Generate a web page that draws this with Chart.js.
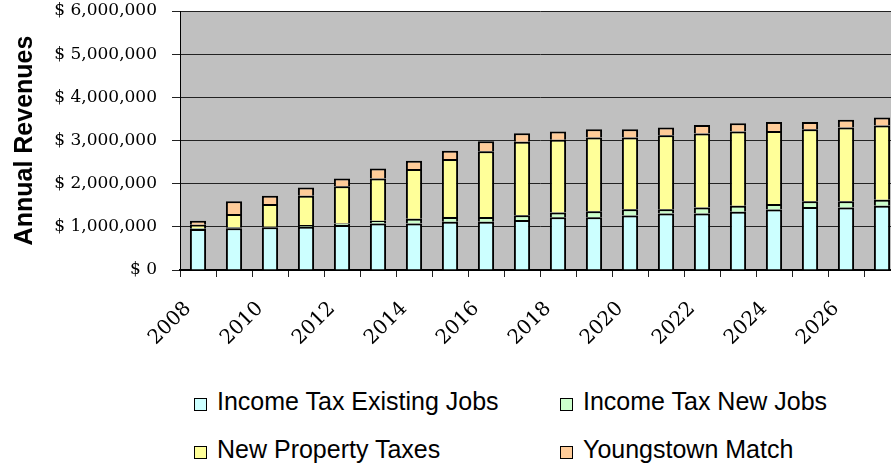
<!DOCTYPE html>
<html>
<head>
<meta charset="utf-8">
<script src="https://cdn.jsdelivr.net/npm/chart.js@4.4.1/dist/chart.umd.min.js"></script>
<style>
  html, body { margin: 0; padding: 0; background: #fff; overflow: hidden; }
  #wrap { position: absolute; left: 0; top: 0; width: 900px; height: 360px; }
  .lg-box { position: absolute; width: 13px; height: 13px; border: 1px solid #000; box-sizing: border-box; }
  .lg-text { position: absolute; font-family: "Liberation Sans", Arial, sans-serif; font-size: 25px; line-height: 25px; color: #000; white-space: nowrap; }
</style>
</head>
<body>
<div id="wrap"><canvas id="myCanvas" width="900" height="360"></canvas></div>
<div id="legend"></div>
<script>
// years on the category axis
var years = ['2008','2009','2010','2011','2012','2013','2014','2015','2016','2017',
             '2018','2019','2020','2021','2022','2023','2024','2025','2026','2027'];

// annual revenues in dollars
var income_existing = [950000, 970000, 990000, 1000000, 1040000, 1080000, 1080000, 1120000, 1120000, 1160000,
                       1220000, 1220000, 1260000, 1310000, 1310000, 1350000, 1400000, 1460000, 1450000, 1490000];
var income_new      = [20000, 20000, 10000, 40000, 40000, 60000, 110000, 110000, 110000, 110000,
                       110000, 140000, 150000, 100000, 140000, 140000, 130000, 130000, 140000, 140000];
var property_taxes  = [80000, 310000, 530000, 680000, 860000, 980000, 1150000, 1340000, 1520000, 1700000,
                       1690000, 1710000, 1660000, 1710000, 1710000, 1720000, 1690000, 1670000, 1710000, 1720000];
var youngstown      = [90000, 290000, 190000, 190000, 180000, 230000, 190000, 190000, 230000, 200000,
                       190000, 190000, 190000, 180000, 200000, 190000, 210000, 170000, 180000, 180000];

var series_names  = ['Income Tax Existing Jobs', 'Income Tax New Jobs', 'New Property Taxes', 'Youngstown Match'];
var series_colors = ['#CCFFFF', '#CCFFCC', '#FFFF99', '#FFCC99'];
var series_data   = [income_existing, income_new, property_taxes, youngstown];

var datasets = [];
for (var i = 0; i < series_names.length; i++) {
    datasets.push({
        label: series_names[i],
        data: series_data[i],
        backgroundColor: series_colors[i],
        borderColor: '#000',
        borderWidth: 2,
        barPercentage: 0.45,
        categoryPercentage: 1.0
    });
}

// grey plot area like the old excel chart
var plotBg = {
    id: 'plotBg',
    beforeDraw: function(chart) {
        var a = chart.chartArea;
        var ctx = chart.ctx;
        ctx.save();
        ctx.fillStyle = '#C0C0C0';
        ctx.fillRect(a.left, a.top, a.right - a.left, a.bottom - a.top);
        ctx.restore();
    }
};

var myChart = new Chart(document.getElementById('myCanvas'), {
    type: 'bar',
    data: { labels: years, datasets: datasets },
    plugins: [plotBg],
    options: {
        responsive: false,
        animation: false,
        devicePixelRatio: 1,
        layout: { padding: { top: 0, right: 0, bottom: 0, left: 0 } },
        plugins: {
            legend: { display: false },
            tooltip: { enabled: false }
        },
        scales: {
            x: {
                stacked: true,
                afterFit: function(scale) {
                    scale.height = 90;
                    scale.paddingRight = 0;
                },
                grid: { display: true, drawOnChartArea: false, drawTicks: true, tickLength: 7, color: '#222', offset: true },
                border: { display: true, color: '#000', width: 2 },
                ticks: {
                    autoSkip: false,
                    minRotation: 45,
                    maxRotation: 45,
                    padding: 20,
                    labelOffset: -10,
                    color: '#000',
                    font: { family: '"DejaVu Serif", serif', size: 20 },
                    callback: function(value, index) {
                        return index % 2 == 0 ? years[index] : '';
                    }
                }
            },
            y: {
                stacked: true,
                min: 0,
                max: 6000000,
                afterFit: function(scale) {
                    scale.width = 180;
                    scale.paddingTop = 11;
                    scale.paddingBottom = 0;
                },
                grid: { color: '#222', lineWidth: 1, tickLength: 8 },
                border: { display: true, color: '#000', width: 1 },
                title: {
                    display: true,
                    text: 'Annual Revenues',
                    color: '#000',
                    padding: { top: 10, bottom: 0 },
                    font: { family: '"Liberation Sans", Arial, sans-serif', size: 25, weight: 'bold' }
                },
                ticks: {
                    stepSize: 1000000,
                    padding: 15,
                    color: '#000',
                    font: { family: '"DejaVu Serif", serif', size: 17 },
                    callback: function(value) {
                        return '$ ' + Number(value).toLocaleString('en-US');
                    }
                }
            }
        }
    }
});

// legend laid out in two columns like the reference
var legend = document.getElementById('legend');
var cols = [194, 560];
var rows = [398, 446];
for (var j = 0; j < series_names.length; j++) {
    var bx = cols[j % 2];
    var by = rows[Math.floor(j / 2)];
    var box = document.createElement('div');
    box.className = 'lg-box';
    box.style.left = bx + 'px';
    box.style.top = by + 'px';
    box.style.background = series_colors[j];
    legend.appendChild(box);
    var txt = document.createElement('div');
    txt.className = 'lg-text';
    txt.style.left = (bx + 23) + 'px';
    txt.style.top = (by - 9) + 'px';
    txt.textContent = series_names[j];
    legend.appendChild(txt);
}
</script>
</body>
</html>
